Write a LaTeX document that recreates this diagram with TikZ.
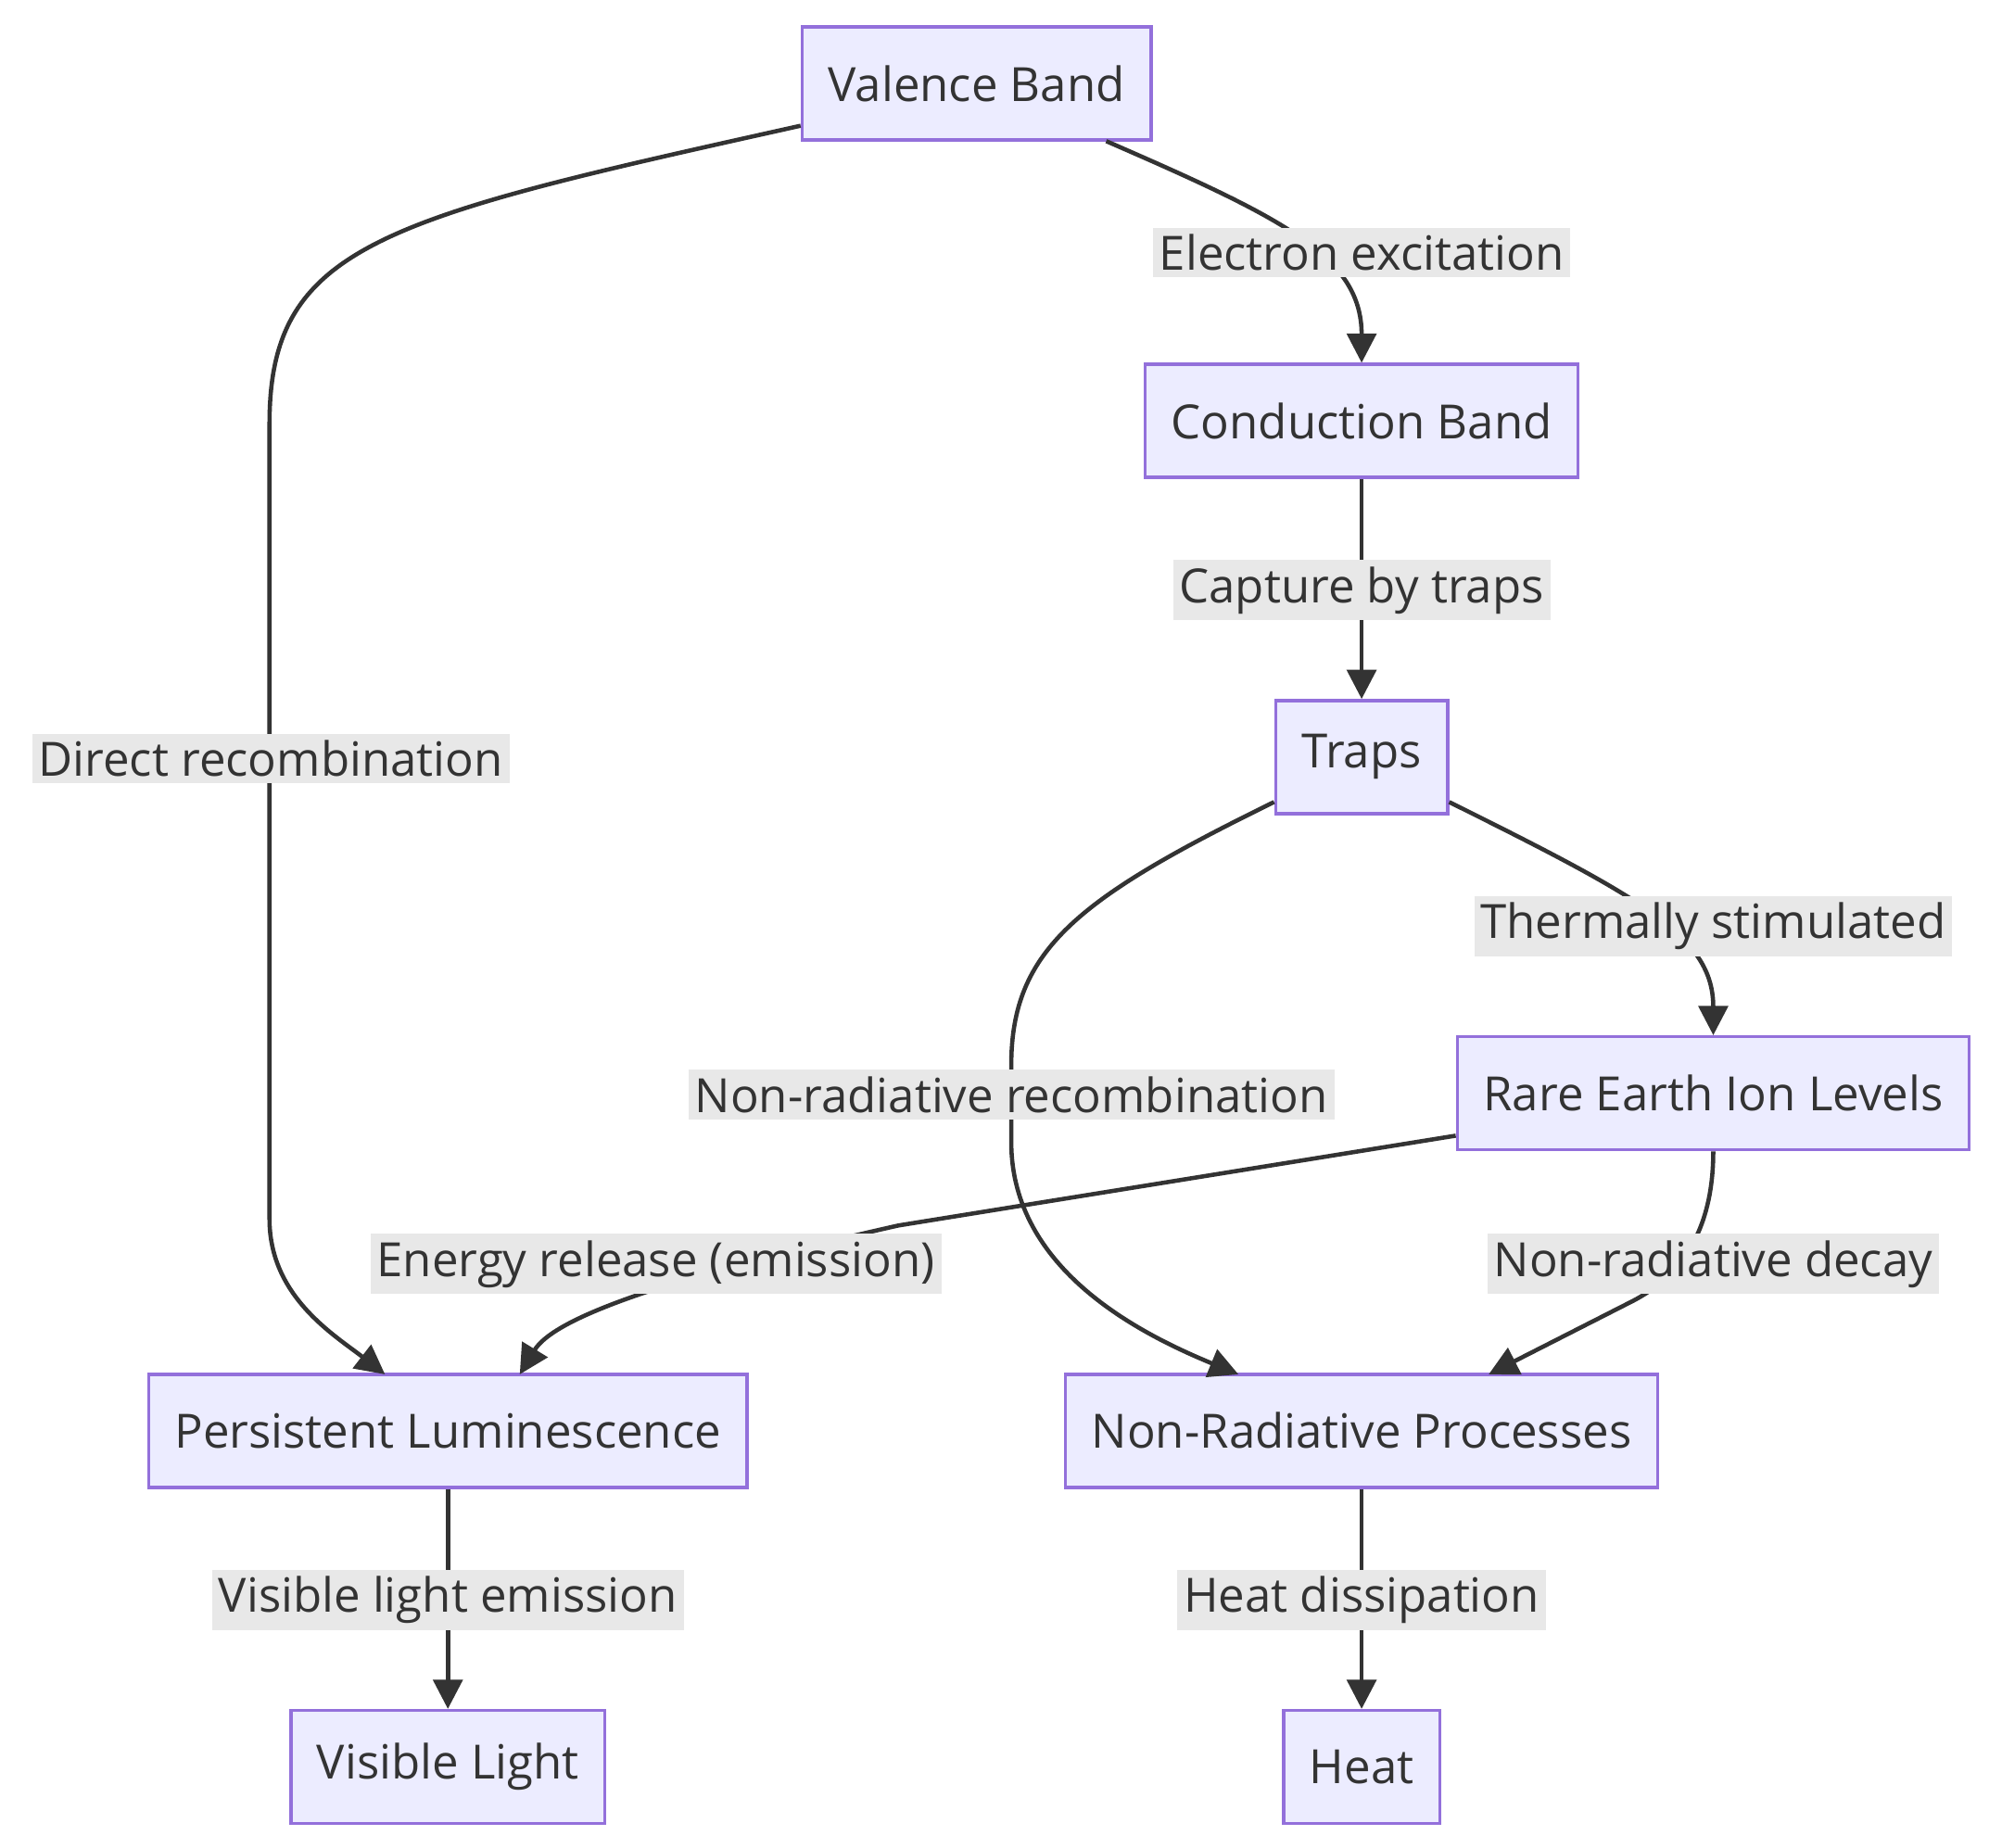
\documentclass[tikz,border=0pt]{standalone}
\usepackage{fontspec}
\setmainfont{Open Sans}
\usetikzlibrary{arrows.meta,positioning}
\definecolor{boxfill}{HTML}{ECECFF}
\definecolor{boxline}{HTML}{9370DB}
\definecolor{lblfill}{HTML}{E8E8E8}
\definecolor{ink}{HTML}{333333}
\tikzset{
  box/.style={draw=boxline, fill=boxfill, line width=1pt, text=ink,
    minimum height=1.22cm, inner xsep=8pt, font=\fontsize{14.5}{17}\selectfont},
  lbl/.style={fill=lblfill, text=ink, inner sep=2pt, font=\fontsize{14.5}{17}\selectfont},
  flow/.style={draw=ink, line width=1.3pt, -{Triangle[length=9pt,width=9pt]}},
}
\begin{document}
\begin{tikzpicture}[x=0.01385cm, y=-0.01385cm]
  \useasboundingbox (0,0) rectangle (1560,1440);
  % Nodes
  \node[box] (vb) at (761,65) {Valence Band};
  \node[box] (cb) at (1061,328) {Conduction Band};
  \node[box] (tr) at (1061,590) {Traps};
  \node[box] (re) at (1335,852) {Rare Earth Ion Levels};
  \node[box] (pl) at (349,1115) {Persistent Luminescence};
  \node[box] (nrp) at (1061,1115) {Non-Radiative Processes};
  \node[box] (vl) at (349,1377) {Visible Light};
  \node[box] (heat) at (1061,1377) {Heat};
  % Connectors
  \draw[flow] (vb.west |- 0,98) .. controls (300,170) and (210,190) .. (210,330)
    -- (210,950) .. controls (210,1010) and (260,1040) .. (300,1071);
  \draw[flow] (862,110) .. controls (1000,170) and (1061,200) .. (cb.north);
  \draw[flow] (cb) -- (tr);
  \draw[flow] (tr.east |- 0,625) .. controls (1280,700) and (1335,730) .. (re.north);
  \draw[flow] (tr.west |- 0,625) .. controls (840,700) and (788,740) .. (788,830)
    -- (788,890) .. controls (788,990) and (890,1040) .. (965,1071);
  \draw[flow] (re.west |- 0,885) -- (700,955) .. controls (500,1000) and (430,1030) .. (405,1071);
  \draw[flow] (re.south) .. controls (1335,970) and (1300,1000) .. (1270,1015)
    -- (1160,1071);
  \draw[flow] (pl) -- (vl);
  \draw[flow] (nrp) -- (heat);
  % Labels
  \node[lbl] (l1) at (211,591) {Direct recombination};
  \node[lbl] (l2) at (1061,197) {Electron excitation};
  \node[lbl] (l3) at (1061,460) {Capture by traps};
  \node[lbl] (l4) at (1335,722) {Thermally stimulated};
  \node[lbl] (l5) at (788,853) {Non-radiative recombination};
  \node[lbl] (l6) at (511,985) {Energy release (emission)};
  \node[lbl] (l7) at (1335,985) {Non-radiative decay};
  \node[lbl] (l8) at (349,1247) {Visible light emission};
  \node[lbl] (l9) at (1061,1247) {Heat dissipation};
\end{tikzpicture}
\end{document}
